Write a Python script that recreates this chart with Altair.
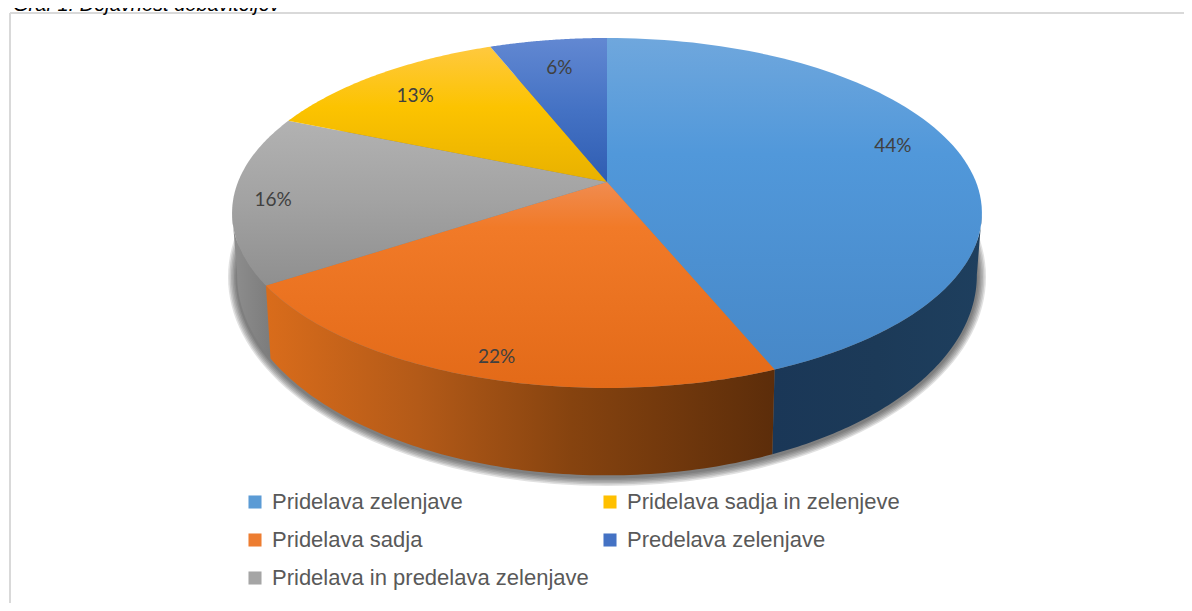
import altair as alt
import pandas as pd

# ---- chart values ----
names = ["Pridelava zelenjave", "Pridelava sadja", "Pridelava in predelava zelenjave",
         "Pridelava sadja in zelenjeve", "Predelava zelenjave"]
values = [43.8, 21.9, 15.6, 12.7, 6.0]
legend_colors = ["#5B9BD5", "#ED7D31", "#A5A5A5", "#FFC000", "#4472C4"]
title_text = "Graf 1: Dejavnost dobaviteljev"

# ---- styling ----
top_stops = [
    [("#6FA7DD", 0), ("#5198DA", .35), ("#4788C8", 1)],
    [("#F08C50", 0), ("#F17A28", .22), ("#E36A18", 1)],
    [("#B2B2B2", 0), ("#A2A2A2", .5), ("#8F8F8F", 1)],
    [("#FFC93F", 0), ("#FCC300", .45), ("#E8B100", 1)],
    [("#6288D2", 0), ("#4472C4", .5), ("#2F5DB2", 1)],
]
wall_stops = [
    [("#1A3757", 0), ("#1C3A58", .5), ("#1E3F5E", 1)],
    [("#D96C1B", 0), ("#B35A18", .3), ("#86430F", .6), ("#5C2D0A", 1)],
    [("#8E8E8E", 0), ("#7C7C7C", 1)],
    [("#000000", 0), ("#000000", 1)],
    [("#000000", 0), ("#000000", 1)],
]
label_shift = [(4, -10), (-10, 25), (-36, 5), (-4, 2), (1, 3)]
shadow_spread = [9, 7.5, 6, 4.5, 3, 1.5]

# projected disc: apex position, half axes, perspective factor
CX, TOP_Y, TOP_A, TOP_B = 607, 182, 369, 169.5
BOT_Y, BOT_A, BOT_B = 240, 364, 193.7
K = 0.177
N = 90
WALL_FROM, WALL_TO = 100 / 360, 260 / 360

df = pd.DataFrame({"name": names, "value": values})
df["end"] = df["value"].cumsum() / df["value"].sum()
df["start"] = df["end"] - df["value"] / df["value"].sum()
df["mid"] = (df["start"] + df["end"]) / 2
df["pct"] = df["value"].round().astype(int).astype(str) + "%"

xs = alt.Scale(domain=[8, 1184], range=[0, 1176])
ys = alt.Scale(domain=[8, 603], range=[0, 595])


def grad(stops, horizontal=False):
    return {"gradient": "linear", "x1": 0, "y1": 0,
            "x2": 1 if horizontal else 0, "y2": 0 if horizontal else 1,
            "stops": [{"color": c, "offset": o} for c, o in stops]}


def poly(chart, fill, opacity=1):
    return chart.mark_line(fill=fill, strokeWidth=0, opacity=opacity, interpolate="linear").encode(
        x=alt.X("px:Q", scale=xs, axis=None),
        y=alt.Y("py:Q", scale=ys, axis=None),
        order=alt.Order("i:Q"),
    )


# shadow beneath the disc
shadow_layers = []
for d in shadow_spread:
    ch = (alt.Chart(pd.DataFrame({"spread": [d]}))
          .transform_calculate(i=f"sequence(0,{2 * N})")
          .transform_flatten(["i"])
          .transform_calculate(t=f"2*PI*datum.i/{2 * N}")
          .transform_calculate(
              px=f"{CX}+(370+datum.spread)*sin(datum.t)",
              py=f"277+(200+datum.spread)*cos(datum.t)"))
    shadow_layers.append(poly(ch, "#2A2A2A", 0.14))

# side walls
wall_layers = []
for idx in [2, 0, 1]:
    ch = (alt.Chart(df[df["name"] == names[idx]])
          .transform_calculate(i=f"sequence(0,{2 * N + 2})")
          .transform_flatten(["i"])
          .transform_calculate(
              a=f"max(datum.start,{WALL_FROM})", b=f"min(datum.end,{WALL_TO})")
          .transform_calculate(
              top=f"datum.i<={N}",
              f=f"datum.i<={N} ? datum.i/{N} : ({2 * N + 1}-datum.i)/{N}")
          .transform_calculate(t="2*PI*(datum.a+(datum.b-datum.a)*datum.f)")
          .transform_calculate(u="sin(datum.t)", v="cos(datum.t)")
          .transform_calculate(w=f"1+{K}*datum.v")
          .transform_calculate(
              px=f"{CX}+(datum.top?{TOP_A}:{BOT_A})*datum.u/datum.w",
              py=f"(datum.top?{TOP_Y}:{BOT_Y})-(datum.top?{TOP_B}:{BOT_B})*datum.v/datum.w"))
    wall_layers.append(poly(ch, grad(wall_stops[idx], horizontal=True)))

# top faces
top_layers = []
for idx in range(len(names)):
    ch = (alt.Chart(df[df["name"] == names[idx]])
          .transform_calculate(i=f"sequence(0,{N + 2})")
          .transform_flatten(["i"])
          .transform_calculate(t=f"2*PI*(datum.start+(datum.end-datum.start)*(datum.i-1)/{N})")
          .transform_calculate(r="datum.i==0 ? 0 : 1")
          .transform_calculate(u="datum.r*sin(datum.t)", v="datum.r*cos(datum.t)")
          .transform_calculate(w=f"1+{K}*datum.v")
          .transform_calculate(
              px=f"{CX}+{TOP_A}*datum.u/datum.w",
              py=f"{TOP_Y}-{TOP_B}*datum.v/datum.w"))
    top_layers.append(poly(ch, grad(top_stops[idx])))

# data labels
label_layers = []
for idx in range(len(names)):
    dx, dy = label_shift[idx]
    ch = (alt.Chart(df[df["name"] == names[idx]])
          .transform_calculate(t="2*PI*datum.mid")
          .transform_calculate(u="0.8*sin(datum.t)", v="0.8*cos(datum.t)")
          .transform_calculate(w=f"1+{K}*datum.v")
          .transform_calculate(
              px=f"{CX}+{TOP_A}*datum.u/datum.w",
              py=f"{TOP_Y}-{TOP_B}*datum.v/datum.w"))
    label_layers.append(
        ch.mark_text(font="Lato", fontSize=19, color="#404040", dx=dx, dy=dy).encode(
            x=alt.X("px:Q", scale=xs, axis=None),
            y=alt.Y("py:Q", scale=ys, axis=None),
            text="pct:N"))

# legend
legend_layer = alt.Chart(df).mark_square(size=0, opacity=1).encode(
    x=alt.value(0), y=alt.value(0),
    color=alt.Color("name:N",
                    scale=alt.Scale(domain=names, range=legend_colors),
                    legend=alt.Legend(
                        title=None, orient="none", legendX=236, legendY=483, columns=2,
                        symbolType="square", symbolSize=170, symbolStrokeWidth=0,
                        labelFont="Liberation Sans", labelFontSize=22, labelColor="#595959",
                        labelLimit=500, labelOffset=6, rowPadding=16, columnPadding=10,
                        padding=0)),
)

# frame and the clipped caption
frame = alt.Chart(pd.DataFrame({"a": [0]}))
frame_left = frame.mark_rule(color="#D9D9D9", strokeWidth=2).encode(
    x=alt.value(2), y=alt.value(5), y2=alt.value(595))
frame_top = frame.mark_rule(color="#D9D9D9", strokeWidth=2).encode(
    x=alt.value(2), x2=alt.value(1176), y=alt.value(5))
caption = frame.mark_text(font="Liberation Sans", fontSize=20, fontStyle="italic",
                          color="#000000", align="left", baseline="alphabetic").encode(
    x=alt.value(5), y=alt.value(3), text=alt.value(title_text))

chart = alt.layer(
    frame_left, frame_top, caption,
    *shadow_layers, *wall_layers, *top_layers, *label_layers, legend_layer
).properties(
    width=1176, height=595, padding=0, autosize=alt.AutoSizeParams(type="none")
).configure_view(stroke=None).configure(background="#FFFFFF") if False else alt.layer(
    frame_left, frame_top, caption,
    *shadow_layers, *wall_layers, *top_layers, *label_layers, legend_layer
).properties(
    width=1176, height=595, padding=0, autosize=alt.AutoSizeParams(type="none")
).configure_view(stroke=None)

chart.save("out.html", embed_options={"renderer": "svg", "actions": False})
